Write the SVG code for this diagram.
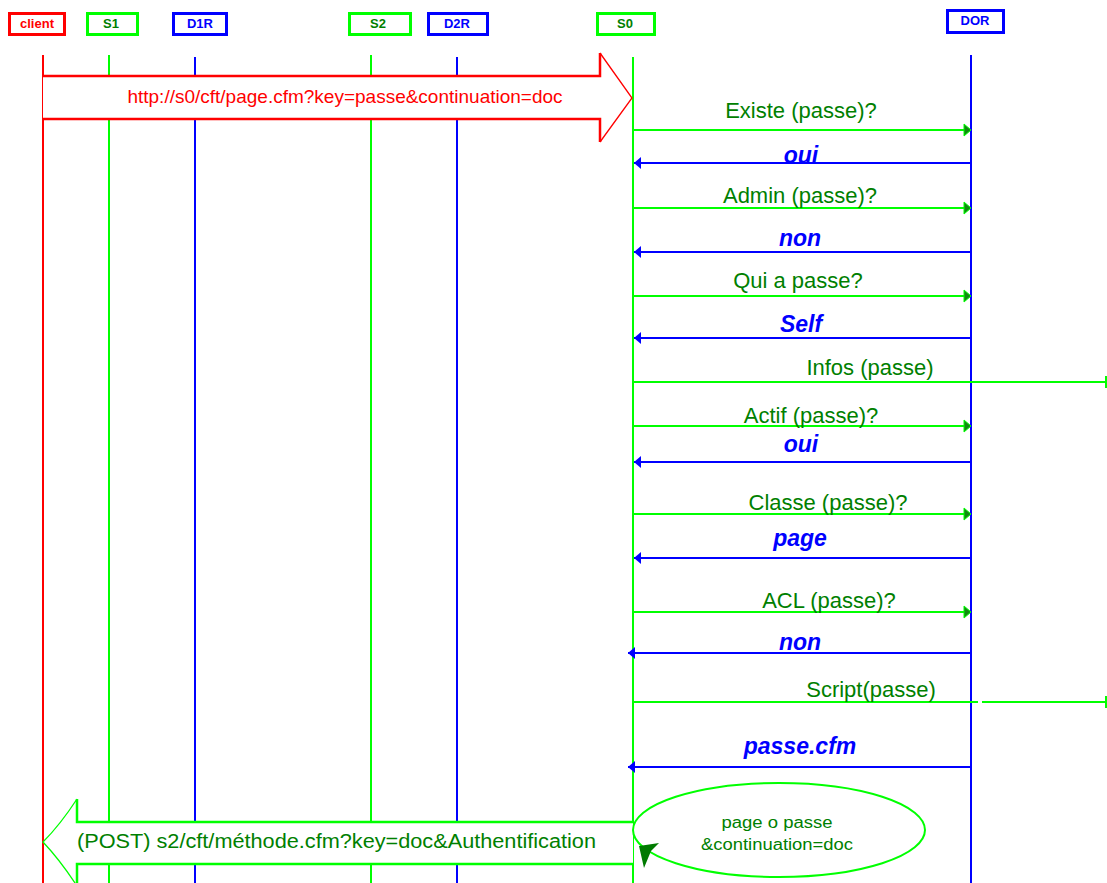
<svg xmlns="http://www.w3.org/2000/svg" width="1107" height="883" viewBox="0 0 1107 883">
<style>
.hb{fill:#fff;stroke-width:3}
.ht{font-family:"Liberation Sans",Arial,sans-serif;font-weight:bold;font-size:13px;text-anchor:middle}
.ll{stroke-width:2;fill:none}
.req{stroke:#00ff00;stroke-width:2;fill:none}
.rsp{stroke:#0000ff;stroke-width:2;fill:none}
.gt{font-family:"Liberation Sans",Arial,sans-serif;font-size:22px;fill:#008000;text-anchor:middle}
.bt{font-family:"Liberation Sans",Arial,sans-serif;font-size:23px;font-weight:bold;font-style:italic;fill:#0000ff;text-anchor:middle}
</style>
<defs>
<marker id="ag" markerUnits="userSpaceOnUse" markerWidth="10" markerHeight="14" refX="8" refY="7" orient="auto" viewBox="0 0 10 14">
<path d="M1,1 L8,7 L1,13 z" fill="#108a10" stroke="#00ff00" stroke-width="1"/>
</marker>
<marker id="ab" markerUnits="userSpaceOnUse" markerWidth="10" markerHeight="14" refX="8" refY="7" orient="auto" viewBox="0 0 10 14">
<path d="M1,1 L8,7 L1,13 z" fill="#0000ff"/>
</marker>
</defs>
<rect width="1107" height="883" fill="#fff"/>

<g id="lifelines">
<line class="ll" x1="43" y1="55" x2="43" y2="883" stroke="#ff0000"/>
<line class="ll" x1="109" y1="55" x2="109" y2="883" stroke="#00ff00"/>
<line class="ll" x1="195" y1="57" x2="195" y2="883" stroke="#0000ff"/>
<line class="ll" x1="371" y1="55" x2="371" y2="883" stroke="#00ff00"/>
<line class="ll" x1="457" y1="57" x2="457" y2="883" stroke="#0000ff"/>
<line class="ll" x1="633" y1="57" x2="633" y2="883" stroke="#00ff00"/>
<line class="ll" x1="971" y1="55" x2="971" y2="883" stroke="#0000ff"/>
</g>

<g id="client">
<rect class="hb" x="9.5" y="13.5" width="55" height="21" stroke="#ff0000"/>
<text class="ht" x="37" y="28" fill="#ff0000">client</text>
</g>
<g id="S1">
<rect class="hb" x="87.5" y="13.5" width="50" height="21" stroke="#00ff00"/>
<text class="ht" x="111" y="28" fill="#008000">S1</text>
</g>
<g id="D1R">
<rect class="hb" x="173.5" y="13.5" width="53" height="21" stroke="#0000ff"/>
<text class="ht" x="200" y="28" fill="#0000ff">D1R</text>
</g>
<g id="S2">
<rect class="hb" x="349.5" y="13.5" width="61" height="21" stroke="#00ff00"/>
<text class="ht" x="378" y="28" fill="#008000">S2</text>
</g>
<g id="D2R">
<rect class="hb" x="428.5" y="13.5" width="59" height="21" stroke="#0000ff"/>
<text class="ht" x="457" y="28" fill="#0000ff">D2R</text>
</g>
<g id="S0">
<rect class="hb" x="597.5" y="13.5" width="57" height="21" stroke="#00ff00"/>
<text class="ht" x="625" y="28" fill="#008000">S0</text>
</g>
<g id="DOR">
<rect class="hb" x="947.5" y="10.5" width="56" height="22" stroke="#0000ff"/>
<text class="ht" x="975" y="25" fill="#0000ff">DOR</text>
</g>

<g id="request-arrow">
<polygon points="43,76 600,76 600,53 632,98 600,142 600,119 43,119" fill="#fff"/>
<path d="M43,76 L600,76 L600,53 M600,142 L600,119 L43,119" fill="none" stroke="#ff0000" stroke-width="2.5"/>
<path d="M600,53 L632,98 L600,142" fill="none" stroke="#ff0000" stroke-width="1.3"/>
<text x="345" y="103" font-family="Liberation Sans,Arial,sans-serif" font-size="19" fill="#ff0000" text-anchor="middle">http://s0/cft/page.cfm?key=passe&amp;continuation=doc</text>
</g>

<g id="connectors">
<line class="req" x1="634" y1="130" x2="971" y2="130" marker-end="url(#ag)"/>
<line class="rsp" x1="970" y1="163" x2="634" y2="163" marker-end="url(#ab)"/>
<line class="req" x1="634" y1="208" x2="971" y2="208" marker-end="url(#ag)"/>
<line class="rsp" x1="970" y1="252" x2="634" y2="252" marker-end="url(#ab)"/>
<line class="req" x1="634" y1="296" x2="971" y2="296" marker-end="url(#ag)"/>
<line class="rsp" x1="970" y1="338" x2="634" y2="338" marker-end="url(#ab)"/>
<line class="req" x1="634" y1="382" x2="1106" y2="382"/>
<line class="req" x1="1106" y1="376" x2="1106" y2="388"/>
<line class="req" x1="634" y1="426" x2="971" y2="426" marker-end="url(#ag)"/>
<line class="rsp" x1="970" y1="462" x2="634" y2="462" marker-end="url(#ab)"/>
<line class="req" x1="634" y1="514" x2="971" y2="514" marker-end="url(#ag)"/>
<line class="rsp" x1="970" y1="558" x2="634" y2="558" marker-end="url(#ab)"/>
<line class="req" x1="634" y1="612" x2="971" y2="612" marker-end="url(#ag)"/>
<line class="rsp" x1="970" y1="653" x2="628" y2="653" marker-end="url(#ab)"/>
<line class="req" x1="634" y1="702" x2="978" y2="702"/>
<line class="req" x1="982" y1="702" x2="1106" y2="702"/>
<line class="req" x1="1106" y1="696" x2="1106" y2="708"/>
<line class="rsp" x1="970" y1="767" x2="628" y2="767" marker-end="url(#ab)"/>
</g>

<g id="labels">
<text class="gt" x="801" y="118">Existe (passe)?</text>
<text class="bt" x="801" y="163">oui</text>
<text class="gt" x="800" y="203">Admin (passe)?</text>
<text class="bt" x="800" y="246">non</text>
<text class="gt" x="798" y="288">Qui a passe?</text>
<text class="bt" x="801" y="332">Self</text>
<text class="gt" x="870" y="375">Infos (passe)</text>
<text class="gt" x="811" y="423">Actif (passe)?</text>
<text class="bt" x="801" y="452">oui</text>
<text class="gt" x="828" y="510">Classe (passe)?</text>
<text class="bt" x="800" y="546">page</text>
<text class="gt" x="829" y="608">ACL (passe)?</text>
<text class="bt" x="800" y="650">non</text>
<text class="gt" x="871" y="697">Script(passe)</text>
<text class="bt" x="800" y="754">passe.cfm</text>
</g>

<g id="response-arrow">
<polygon points="633,822 77,822 77,799 43,842 77,886 77,864 633,864" fill="#fff"/>
<path d="M633,822 L77,822 L77,799 M77,886 L77,864 L633,864" fill="none" stroke="#00ff00" stroke-width="2.5"/>
<path d="M77,799 Q60,825 43,842 Q60,860 77,886" fill="none" stroke="#00ff00" stroke-width="1.3"/>
<text x="77" y="848" font-family="Liberation Sans,Arial,sans-serif" font-size="20" fill="#008000" textLength="519" lengthAdjust="spacingAndGlyphs">(POST) s2/cft/méthode.cfm?key=doc&amp;Authentification</text>
</g>

<g id="self-loop">
<ellipse cx="779" cy="830" rx="146" ry="47" fill="none" stroke="#00ff00" stroke-width="2"/>
<path d="M639,846 L659,843 L651,851 L644,868 z" fill="#007a00"/>
<text x="777" y="828" font-family="Liberation Sans,Arial,sans-serif" font-size="16" fill="#008000" text-anchor="middle" textLength="111" lengthAdjust="spacingAndGlyphs">page o passe</text>
<text x="777" y="850" font-family="Liberation Sans,Arial,sans-serif" font-size="16" fill="#008000" text-anchor="middle" textLength="152" lengthAdjust="spacingAndGlyphs">&amp;continuation=doc</text>
</g>
</svg>
